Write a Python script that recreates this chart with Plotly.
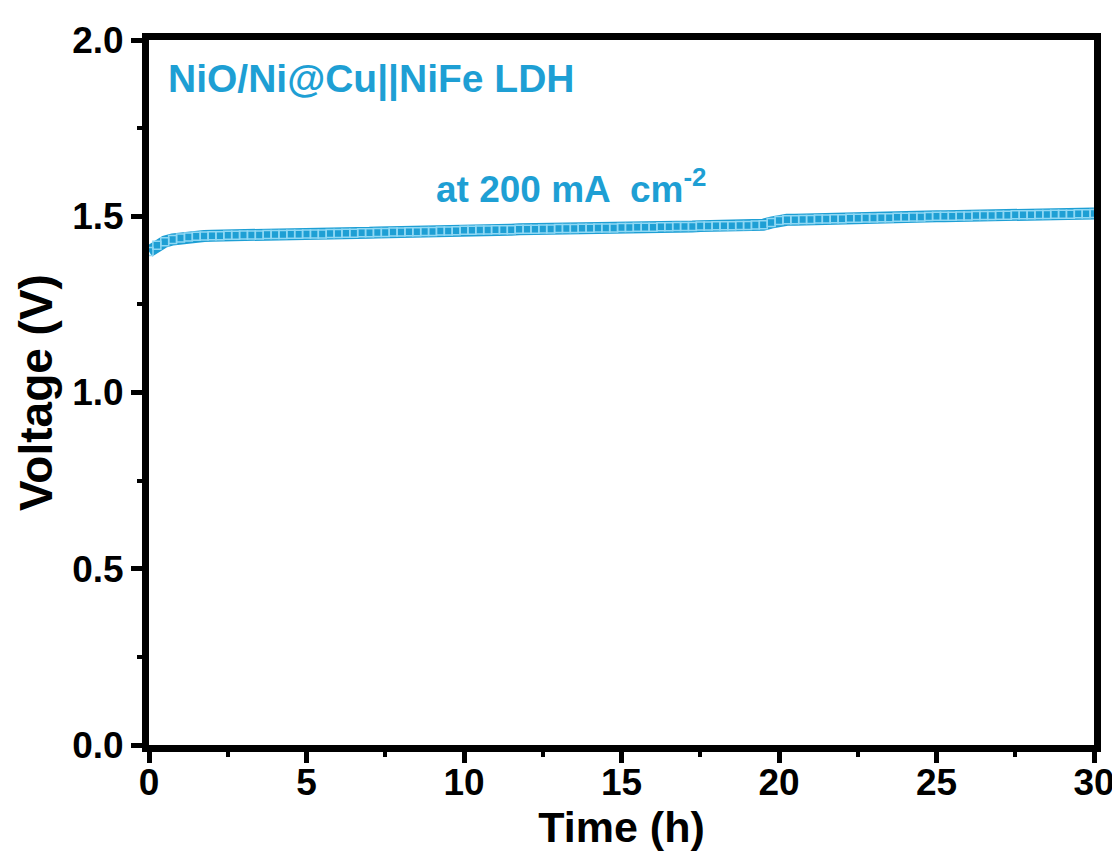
import plotly.graph_objects as go

time_h = [0.0, 0.25, 0.5, 0.75, 1.0, 1.25, 1.5, 1.75, 2.0, 2.25, 2.5, 2.75, 3.0, 3.25, 3.5, 3.75,
          4.0, 4.25, 4.5, 4.75, 5.0, 5.25, 5.5, 5.75, 6.0, 6.25, 6.5, 6.75, 7.0, 7.25, 7.5, 7.75,
          8.0, 8.25, 8.5, 8.75, 9.0, 9.25, 9.5, 9.75, 10.0, 10.25, 10.5, 10.75, 11.0, 11.25, 11.5, 11.75,
          12.0, 12.25, 12.5, 12.75, 13.0, 13.25, 13.5, 13.75, 14.0, 14.25, 14.5, 14.75, 15.0, 15.25, 15.5, 15.75,
          16.0, 16.25, 16.5, 16.75, 17.0, 17.25, 17.5, 17.75, 18.0, 18.25, 18.5, 18.75, 19.0, 19.25, 19.5, 19.75,
          20.0, 20.25, 20.5, 20.75, 21.0, 21.25, 21.5, 21.75, 22.0, 22.25, 22.5, 22.75, 23.0, 23.25, 23.5, 23.75,
          24.0, 24.25, 24.5, 24.75, 25.0, 25.25, 25.5, 25.75, 26.0, 26.25, 26.5, 26.75, 27.0, 27.25, 27.5, 27.75,
          28.0, 28.25, 28.5, 28.75, 29.0, 29.25, 29.5, 29.75, 30.0]

voltage_v = [1.400, 1.418, 1.428, 1.434, 1.438, 1.441, 1.443, 1.444, 1.445, 1.445, 1.446, 1.446, 1.447, 1.447, 1.447, 1.448,
             1.448, 1.448, 1.449, 1.449, 1.450, 1.450, 1.450, 1.451, 1.451, 1.452, 1.452, 1.453, 1.453, 1.454, 1.454, 1.455,
             1.455, 1.456, 1.456, 1.457, 1.457, 1.458, 1.458, 1.459, 1.460, 1.460, 1.461, 1.461, 1.462, 1.462, 1.462, 1.463,
             1.463, 1.463, 1.464, 1.464, 1.465, 1.465, 1.465, 1.466, 1.466, 1.467, 1.467, 1.467, 1.468, 1.468, 1.469, 1.469,
             1.469, 1.470, 1.470, 1.471, 1.471, 1.471, 1.472, 1.472, 1.473, 1.473, 1.473, 1.474, 1.474, 1.475, 1.476, 1.482,
             1.488, 1.490, 1.490, 1.491, 1.491, 1.492, 1.492, 1.493, 1.493, 1.494, 1.494, 1.495, 1.495, 1.496, 1.496, 1.497,
             1.497, 1.498, 1.498, 1.499, 1.500, 1.500, 1.500, 1.501, 1.501, 1.502, 1.502, 1.502, 1.503, 1.503, 1.504, 1.504,
             1.504, 1.505, 1.505, 1.506, 1.506, 1.506, 1.507, 1.507, 1.508]

x_ticks = [0, 5, 10, 15, 20, 25, 30]
y_ticks = [0.0, 0.5, 1.0, 1.5, 2.0]
y_tick_labels = ["0.0", "0.5", "1.0", "1.5", "2.0"]

blue = "#1e9fd4"
font_family = "Liberation Sans, Arial, sans-serif"

fig = go.Figure()
fig.add_trace(go.Scatter(
    x=time_h, y=voltage_v, mode="lines",
    line=dict(color=blue, width=12), showlegend=False, hoverinfo="skip"))
fig.add_trace(go.Scatter(
    x=time_h, y=voltage_v, mode="markers",
    marker=dict(symbol="square-open", size=8, color="#8fd8f4", line=dict(width=1.5, color="#8fd8f4")),
    showlegend=False))

axis_common = dict(
    showline=True, linecolor="black", linewidth=7, mirror=True,
    ticks="outside", ticklen=11, tickwidth=5, tickcolor="black",
    showgrid=False, zeroline=False,
    tickfont=dict(family=font_family, size=37, color="black", weight="bold"),
    minor=dict(ticks="outside", ticklen=5, tickwidth=4, tickcolor="black"),
)

fig.update_xaxes(range=[0, 30], tickvals=x_ticks, dtick=5,
                 minor_dtick=2.5, ticklabelstandoff=-12,
                 title=dict(text="Time (h)", font=dict(family=font_family, size=43, color="black", weight="bold"), standoff=8),
                 **axis_common)
fig.update_yaxes(range=[0, 2.0], tickvals=y_ticks, ticktext=y_tick_labels, dtick=0.5,
                 minor_dtick=0.25,
                 title=dict(text="Voltage (V)", font=dict(family=font_family, size=46, color="black", weight="bold"), standoff=8),
                 **axis_common)

fig.add_annotation(x=0.018, y=0.945, xref="paper", yref="paper", xanchor="left", yanchor="middle",
                   text="NiO/Ni@Cu||NiFe LDH", showarrow=False,
                   font=dict(family=font_family, size=39, color=blue, weight="bold"))
fig.add_annotation(x=0.302, y=0.756, xref="paper", yref="paper", xanchor="left", yanchor="bottom",
                   text="at 200 mA  cm<sup>-2</sup>", showarrow=False,
                   font=dict(family=font_family, size=37, color=blue, weight="bold"))

fig.update_layout(
    width=1120, height=862,
    margin=dict(l=141, r=34, t=30, b=125),
    paper_bgcolor="white", plot_bgcolor="white",
)

fig.write_html("out.html")
